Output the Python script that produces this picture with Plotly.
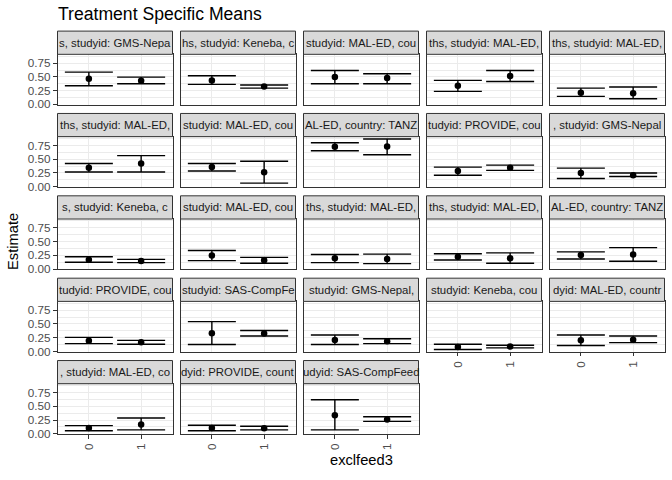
import plotly.graph_objects as go

# ---------------- data ----------------
strip_labels = [
    "s, studyid: GMS-Nepa", "hs, studyid: Keneba, c", "studyid: MAL-ED, cou",
    "ths, studyid: MAL-ED,", "ths, studyid: MAL-ED,",
    "ths, studyid: MAL-ED,", "studyid: MAL-ED, cou", "AL-ED, country: TANZ",
    "tudyid: PROVIDE, cou", ", studyid: GMS-Nepal",
    "s, studyid: Keneba, c", "studyid: MAL-ED, cou", "ths, studyid: MAL-ED,",
    "ths, studyid: MAL-ED,", "AL-ED, country: TANZ",
    "tudyid: PROVIDE, cou", "studyid: SAS-CompFe", "studyid: GMS-Nepal,",
    "studyid: Keneba, cou", "dyid: MAL-ED, countr",
    ", studyid: MAL-ED, co", "dyid: PROVIDE, count", "udyid: SAS-CompFeed",
]
categories = ["0", "1"]

est0 = [0.466, 0.436, 0.496, 0.339, 0.212, 0.345, 0.357, 0.726, 0.286, 0.250,
        0.171, 0.248, 0.195, 0.224, 0.254, 0.196, 0.333, 0.208, 0.083, 0.202,
        0.107, 0.107, 0.339]
lo0 = [0.339, 0.363, 0.375, 0.236, 0.145, 0.268, 0.286, 0.655, 0.208, 0.149,
       0.124, 0.154, 0.118, 0.165, 0.183, 0.143, 0.125, 0.125, 0.036, 0.107,
       0.054, 0.054, 0.071]
hi0 = [0.587, 0.520, 0.617, 0.436, 0.296, 0.423, 0.423, 0.800, 0.357, 0.339,
       0.224, 0.337, 0.266, 0.278, 0.313, 0.256, 0.542, 0.298, 0.131, 0.298,
       0.149, 0.155, 0.619]
est1 = [0.430, 0.327, 0.478, 0.514, 0.200, 0.423, 0.262, 0.732, 0.345, 0.208,
        0.148, 0.160, 0.183, 0.195, 0.266, 0.167, 0.327, 0.185, 0.089, 0.214,
        0.167, 0.101, 0.262]
lo1 = [0.375, 0.296, 0.375, 0.417, 0.103, 0.268, 0.065, 0.583, 0.298, 0.185,
       0.118, 0.106, 0.100, 0.106, 0.142, 0.131, 0.280, 0.143, 0.065, 0.161,
       0.071, 0.071, 0.226]
hi1 = [0.496, 0.351, 0.557, 0.617, 0.315, 0.565, 0.464, 0.869, 0.393, 0.250,
       0.177, 0.213, 0.272, 0.295, 0.390, 0.202, 0.381, 0.232, 0.113, 0.280,
       0.286, 0.137, 0.310]

y_ticks = [0.0, 0.25, 0.5, 0.75]
y_ticklabels = ["0.00", "0.25", "0.50", "0.75"]
y_minor = [0.125, 0.375, 0.625, 0.875]

# ---------------- layout geometry ----------------
W, H = 672, 480
NCOL = 5
col_left0, col_step, panel_w = 57.5, 123.0, 115.0
row_top0, row_step, panel_h = 55.0, 83.4, 51.0
strip_h = 23.5

all_lo = lo0 + lo1
all_hi = hi0 + hi1
span = max(all_hi) - min(all_lo)
yr = [min(all_lo) - 0.05 * span, max(all_hi) + 0.05 * span]

GRID = "#EBEBEB"
DARK = "#333333"
TICKC = "#4D4D4D"
FONT = "Liberation Sans, Arial, sans-serif"

fig = go.Figure()
shapes = []
annotations = []
n = len(est0)
last_row_cols = n % NCOL
nrows = (n + NCOL - 1) // NCOL

for i in range(n):
    r, c = divmod(i, NCOL)
    left = col_left0 + c * col_step
    top = row_top0 + r * row_step
    bottom = top + panel_h
    xd = [left / W, (left + panel_w) / W]
    yd = [1 - bottom / H, 1 - top / H]
    k = "" if i == 0 else str(i + 1)
    show_x = (r == nrows - 1) or (r == nrows - 2 and c >= last_row_cols)
    show_y = (c == 0)

    fig.add_trace(go.Scatter(
        x=[0, 1], y=[est0[i], est1[i]],
        mode="markers",
        marker=dict(size=6.5, color="black"),
        error_y=dict(type="data", symmetric=False,
                     array=[hi0[i] - est0[i], hi1[i] - est1[i]],
                     arrayminus=[est0[i] - lo0[i], est1[i] - lo1[i]],
                     width=24, thickness=1.4, color="black"),
        xaxis="x" + k, yaxis="y" + k, showlegend=False, hoverinfo="skip",
    ))

    fig.layout["xaxis" + k] = dict(
        domain=xd, anchor="y" + k, range=[-0.6, 1.6],
        tickvals=[0, 1], ticktext=categories if show_x else ["", ""],
        showticklabels=show_x, tickangle=-90,
        ticks="outside" if show_x else "", ticklen=3.7, tickwidth=1, tickcolor=DARK,
        tickfont=dict(family=FONT, size=11.7, color=TICKC),
        showgrid=True, gridcolor=GRID, gridwidth=1.1, zeroline=False,
        showline=True, mirror=True, linecolor=DARK, linewidth=1,
        fixedrange=True,
    )
    fig.layout["yaxis" + k] = dict(
        domain=yd, anchor="x" + k, range=yr,
        tickvals=y_ticks, ticktext=y_ticklabels, showticklabels=show_y,
        ticks="outside" if show_y else "", ticklen=3.7, tickwidth=1, tickcolor=DARK,
        tickfont=dict(family=FONT, size=11.7, color=TICKC),
        showgrid=True, gridcolor=GRID, gridwidth=1.1, zeroline=False,
        minor=dict(tickvals=y_minor, showgrid=True, gridcolor=GRID, gridwidth=0.55),
        showline=True, mirror=True, linecolor=DARK, linewidth=1,
        fixedrange=True,
    )

    # strip
    s_top = top - strip_h
    shapes.append(dict(type="rect", xref="paper", yref="paper",
                       x0=left / W, x1=(left + panel_w) / W,
                       y0=1 - top / H, y1=1 - s_top / H,
                       fillcolor="#D9D9D9", line=dict(color=DARK, width=1), layer="above"))
    annotations.append(dict(
        text=strip_labels[i], xref="paper", yref="paper",
        x=(left + panel_w / 2) / W, y=1 - (s_top + strip_h / 2) / H,
        xanchor="center", yanchor="middle", showarrow=False,
        font=dict(family=FONT, size=11.4, color="#1A1A1A"),
    ))

# titles
annotations.append(dict(text="Treatment Specific Means", xref="paper", yref="paper",
                        x=55.5 / W, y=1 - 14 / H, xanchor="left", yanchor="middle",
                        showarrow=False, font=dict(family=FONT, size=17.6, color="black")))
annotations.append(dict(text="exclfeed3", xref="paper", yref="paper",
                        x=(col_left0 + (col_left0 + 4 * col_step + panel_w)) / 2 / W,
                        y=1 - 466 / H, xanchor="center", yanchor="middle",
                        showarrow=False, font=dict(family=FONT, size=14.7, color="black")))
annotations.append(dict(text="Estimate", xref="paper", yref="paper",
                        x=13 / W, y=1 - 245 / H, xanchor="center", yanchor="middle",
                        textangle=-90, showarrow=False,
                        font=dict(family=FONT, size=14.7, color="black")))

fig.update_layout(
    width=W, height=H, margin=dict(l=0, r=0, t=0, b=0),
    paper_bgcolor="white", plot_bgcolor="white",
    shapes=shapes, annotations=annotations, showlegend=False,
)

fig.write_html("out.html")
